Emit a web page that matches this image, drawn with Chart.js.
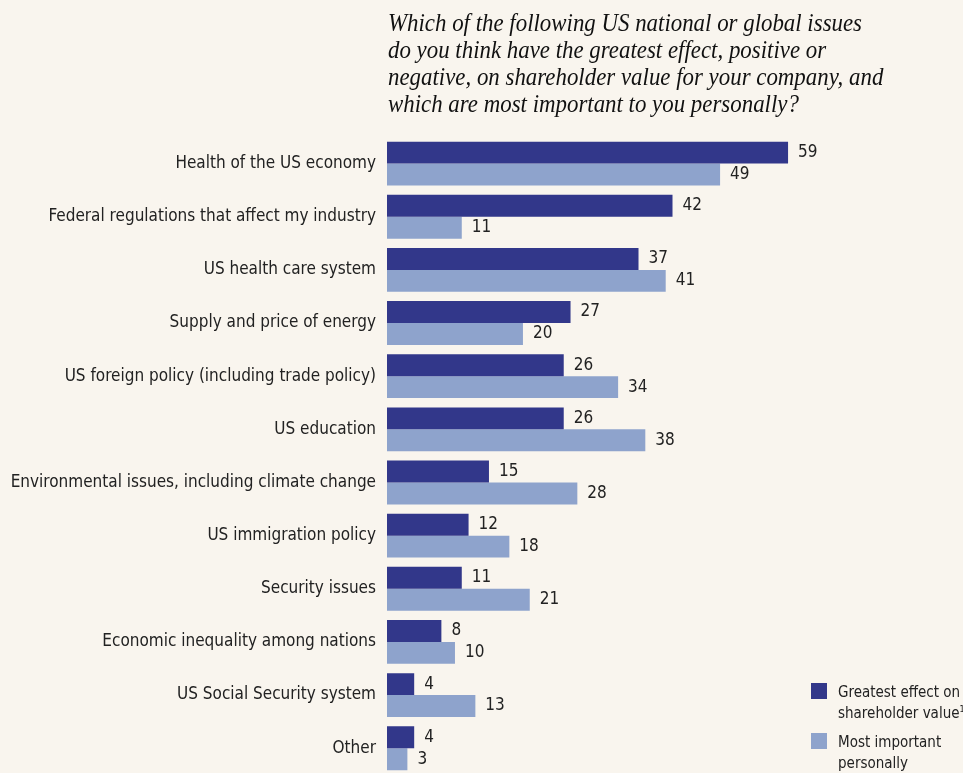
<!DOCTYPE html>
<html>
<head>
<meta charset="utf-8">
<script src="https://cdn.jsdelivr.net/npm/chart.js@4.4.0/dist/chart.umd.min.js"></script>
<style>
  html, body { margin: 0; padding: 0; background: #f9f5ee; overflow: hidden; }
  #wrap { position: relative; width: 963px; height: 773px; }
  #chart { position: absolute; left: 0; top: 0; }
  #title {
    position: absolute; left: 388px; top: 9px;
    font-family: "Liberation Serif", "DejaVu Serif", serif; font-style: italic;
    font-size: 25px; line-height: 27px; color: #111; white-space: pre;
    transform: scaleX(0.915); transform-origin: 0 0;
  }
  .leg { position: absolute; left: 811px; font-family: "DejaVu Sans Condensed", "Liberation Sans Narrow", Roboto, sans-serif;
    font-size: 15px; line-height: 21px; color: #222; }
  .leg span.box { position: absolute; left: 0; top: 3px; width: 16px; height: 16px; }
  .leg div { margin-left: 27px; white-space: nowrap; position: relative; top: 2px; }
  .leg sup { font-size: 9px; line-height: 0; }
</style>
</head>
<body>
<div id="wrap">
  <canvas id="chart" width="963" height="796"></canvas>
  <div id="title">Which of the following US national or global issues
do you think have the greatest effect, positive or
negative, on shareholder value for your company, and
which are most important to you personally?</div>
  <div class="leg" style="top:680px"><span class="box" style="background:#32378a"></span><div>Greatest effect on<br>shareholder value<sup>1</sup></div></div>
  <div class="leg" style="top:730px"><span class="box" style="background:#8ea3cc"></span><div>Most important<br>personally</div></div>
</div>
<script>
const categories = [
  'Health of the US economy',
  'Federal regulations that affect my industry',
  'US health care system',
  'Supply and price of energy',
  'US foreign policy (including trade policy)',
  'US education',
  'Environmental issues, including climate change',
  'US immigration policy',
  'Security issues',
  'Economic inequality among nations',
  'US Social Security system',
  'Other'
];
const shareholderValue = [59, 42, 37, 27, 26, 26, 15, 12, 11, 8, 4, 4];
const personally = [49, 11, 41, 20, 34, 38, 28, 18, 21, 10, 13, 3];

const labelFont = '"DejaVu Sans Condensed", "Liberation Sans Narrow", Roboto, sans-serif';

// write the numbers next to the bar ends
const valueLabels = {
  id: 'valueLabels',
  afterDatasetsDraw(chart) {
    const ctx = chart.ctx;
    ctx.save();
    ctx.font = '17px ' + labelFont;
    ctx.fillStyle = '#222';
    ctx.textBaseline = 'middle';
    ctx.textAlign = 'left';
    chart.data.datasets.forEach(function(ds, i) {
      chart.getDatasetMeta(i).data.forEach(function(bar, j) {
        ctx.fillText(ds.data[j], bar.x + 10, bar.y);
      });
    });
    ctx.restore();
  }
};

new Chart(document.getElementById('chart'), {
  type: 'bar',
  data: {
    labels: categories,
    datasets: [
      { label: 'Greatest effect on shareholder value', data: shareholderValue, backgroundColor: '#32378a' },
      { label: 'Most important personally', data: personally, backgroundColor: '#8ea3cc' }
    ]
  },
  options: {
    indexAxis: 'y',
    responsive: false,
    animation: false,
    layout: { padding: { top: 137, bottom: 5, left: 0, right: 5 } },
    datasets: { bar: { categoryPercentage: 0.825, barPercentage: 1 } },
    scales: {
      x: { display: false, min: 0, max: 84 },
      y: {
        afterFit: function(scale) { scale.width = 387; },
        grid: { display: false, drawTicks: false },
        border: { display: false },
        ticks: { padding: 11, color: '#222', font: { family: labelFont, size: 17 } }
      }
    },
    plugins: { legend: { display: false }, tooltip: { enabled: false } }
  },
  plugins: [valueLabels]
});
</script>
</body>
</html>
